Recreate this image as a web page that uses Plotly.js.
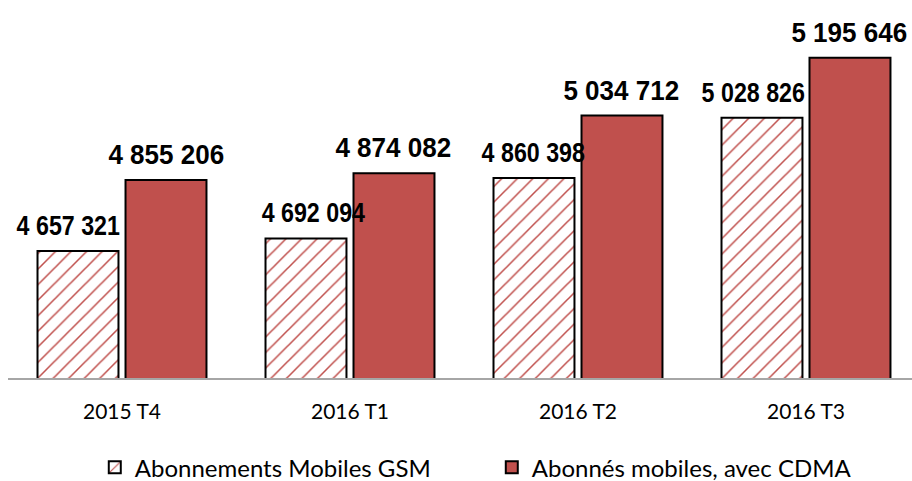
<!DOCTYPE html>
<html>
<head>
<meta charset="utf-8">
<script src="https://cdn.plot.ly/plotly-3.0.1.min.js"></script>
<style>html,body{margin:0;padding:0;background:#fff;}#chart{width:912px;height:481px;}</style>
</head>
<body>
<div id="chart"></div>
<script>
const categories = ["2015 T4", "2016 T1", "2016 T2", "2016 T3"];
const seriesNames = ["Abonnements Mobiles GSM", "Abonnés mobiles, avec CDMA"];
const gsmValues = [4657321, 4692094, 4860398, 5028826];
const cdmaValues = [4855206, 4874082, 5034712, 5195646];

const red = "#C0504D";
function fmt(v) { return String(v).replace(/\B(?=(\d{3})+(?!\d))/g, " "); }

const traces = [
  {
    type: "bar", name: seriesNames[0], x: categories, y: gsmValues,
    marker: { color: "#ffffff", line: { color: "#000", width: 2 },
      pattern: { shape: "/", fgcolor: red, bgcolor: "#ffffff", size: 11, solidity: 0.14 } },
    hoverinfo: "none"
  },
  {
    type: "bar", name: seriesNames[1], x: categories, y: cdmaValues,
    marker: { color: red, line: { color: "#000", width: 2 } },
    hoverinfo: "none"
  }
];

// label placement tweaks (layout only)
const labelFont = { family: "Liberation Sans, Arial, sans-serif", size: 28, color: "#000", weight: "bold" };
const gsmNudge = [-10, 8, 0, -8];

const annotations = [];
categories.forEach((c, i) => {
  annotations.push({ x: c, y: gsmValues[i], xref: "x", yref: "y", text: fmt(gsmValues[i]),
    showarrow: false, yanchor: "bottom", xanchor: "center", xshift: -44 + gsmNudge[i], yshift: 8,
    font: labelFont, name: "gsm" });
  annotations.push({ x: c, y: cdmaValues[i], xref: "x", yref: "y", text: fmt(cdmaValues[i]),
    showarrow: false, yanchor: "bottom", xanchor: "center", xshift: 44, yshift: 8,
    font: labelFont, name: "cdma" });
});

const layout = {
  width: 912, height: 481,
  margin: { l: 8, r: 0, t: 19, b: 103, autoexpand: false },
  paper_bgcolor: "#fff", plot_bgcolor: "#fff",
  barmode: "group", bargap: 0.228, bargroupgap: 0.08,
  showlegend: true,
  legend: { orientation: "h", x: 0.096, xanchor: "left", y: -0.25, yanchor: "middle",
    entrywidth: 352, entrywidthmode: "pixels",
    font: { family: "Lato, Carlito, sans-serif", size: 24, color: "#000" }, traceorder: "normal" },
  xaxis: { range: [-0.5, 3.465], showline: true, linecolor: "#A6A6A6", linewidth: 2,
    ticks: "", ticklabelstandoff: 14, showgrid: false, zeroline: false,
    tickfont: { family: "Lato, Carlito, sans-serif", size: 21, color: "#000" } },
  yaxis: { range: [4303000, 5304000], visible: false, showgrid: false, zeroline: false },
  annotations: annotations
};

Plotly.newPlot("chart", traces, layout, { displayModeBar: false, staticPlot: true }).then(() => {
  // condense label glyphs horizontally to mimic a narrow bold face
  document.querySelectorAll("#chart .annotation-text").forEach((t, k) => {
    const s = (k % 2 === 0) ? 0.83 : 0.93;
    const b = t.getBBox();
    const cx = b.x + b.width / 2;
    t.setAttribute("transform", `translate(${cx},0) scale(${s},1) translate(${-cx},0)`);
  });
});
</script>
</body>
</html>
